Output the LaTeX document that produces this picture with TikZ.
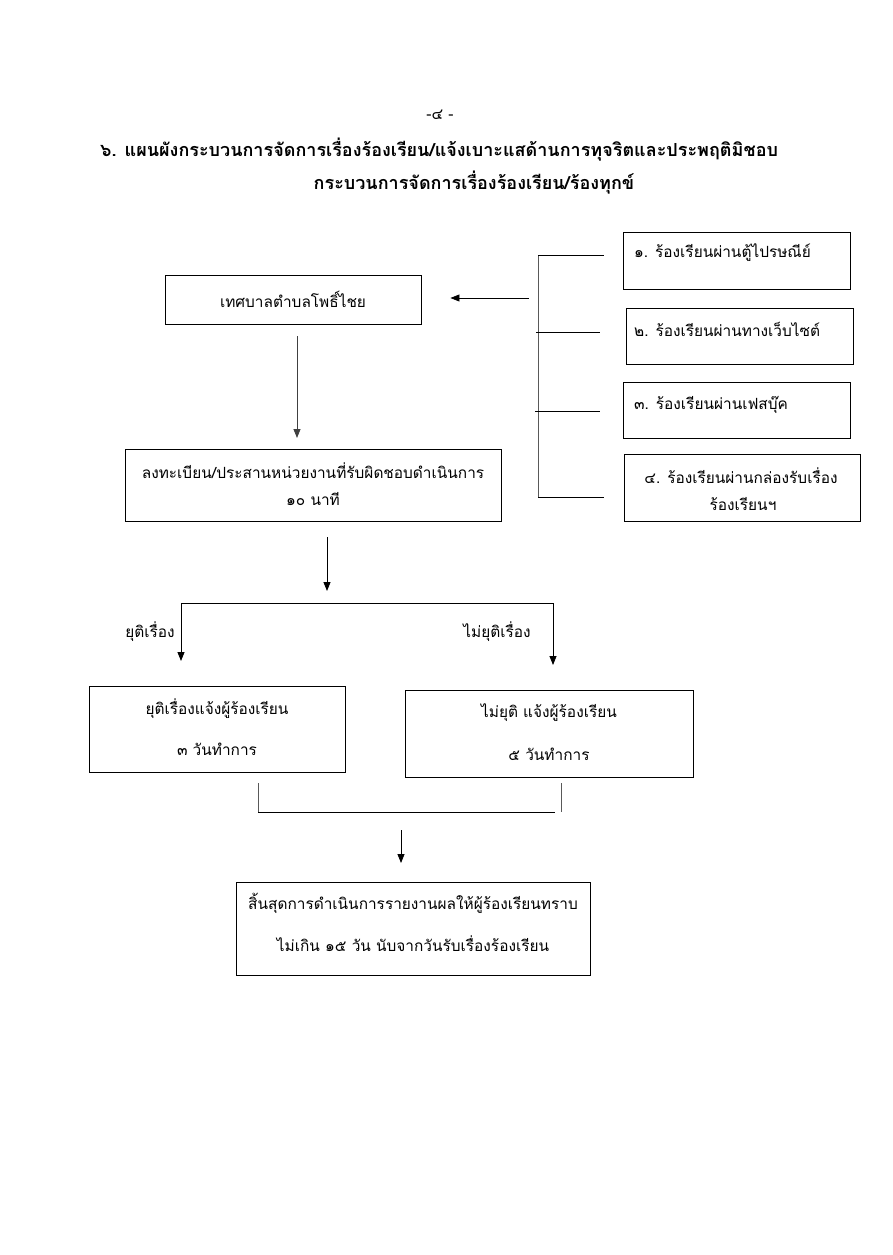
\documentclass[tikz,border=0pt]{standalone}
\usepackage{fontspec}
\setmainfont[Script=Thai]{Loma}
\usetikzlibrary{arrows.meta}
\tikzset{
  box/.style={draw, line width=0.9pt, inner sep=0pt},
  lbl/.style={inner sep=0pt, font=\fontsize{15.4}{18}\selectfont},
  ttl/.style={inner sep=0pt, font=\fontsize{18}{21}\selectfont\bfseries},
  con/.style={line width=0.8pt},
  arr/.style={con, -{Triangle[width=7pt,length=9pt]}},
}
\begin{document}
\begin{tikzpicture}[x=1pt,y=-1pt]
\useasboundingbox (0,0) rectangle (893,1255);
% header
\node[lbl] (pg) at (440,115) {-๔ -};
\node[ttl, anchor=west] (t1) at (100,150) {๖. แผนผังกระบวนการจัดการเรื่องร้องเรียน/แจ้งเบาะแสด้านการทุจริตและประพฤติมิชอบ};
\node[ttl] (t2) at (474,183) {กระบวนการจัดการเรื่องร้องเรียน/ร้องทุกข์};
% boxes
\node[box, minimum width=256, minimum height=49] (b1) at (293,299.5) {};
\node[lbl] at (b1.center) {เทศบาลตำบลโพธิ์ไชย};
\node[box, minimum width=376, minimum height=72] (b2) at (313,485) {};
\node[lbl] at (313,471) {ลงทะเบียน/ประสานหน่วยงานที่รับผิดชอบดำเนินการ};
\node[lbl] at (313,499) {๑๐ นาที};
% right boxes
\node[box, minimum width=227, minimum height=57] (r1) at (736.5,260.5) {};
\node[lbl, anchor=west] at (634,253) {๑. ร้องเรียนผ่านตู้ไปรษณีย์};
\node[box, minimum width=227, minimum height=56] (r2) at (739.5,336) {};
\node[lbl, anchor=west] at (634,329) {๒. ร้องเรียนผ่านทางเว็บไซต์};
\node[box, minimum width=227, minimum height=56] (r3) at (736.5,410) {};
\node[lbl, anchor=west] at (634,405) {๓. ร้องเรียนผ่านเฟสบุ๊ค};
\node[box, minimum width=236, minimum height=67] (r4) at (742,487.5) {};
\node[lbl] at (741,476) {๔. ร้องเรียนผ่านกล่องรับเรื่อง};
\node[lbl] at (743,504) {ร้องเรียนฯ};
% lower boxes
\node[box, minimum width=256, minimum height=86] (b3) at (217,729) {};
\node[lbl] at (217,709) {ยุติเรื่องแจ้งผู้ร้องเรียน};
\node[lbl] at (217,749) {๓ วันทำการ};
\node[box, minimum width=288, minimum height=87] (b4) at (549,733.5) {};
\node[lbl] at (549,713) {ไม่ยุติ แจ้งผู้ร้องเรียน};
\node[lbl] at (549,754) {๕ วันทำการ};
\node[box, minimum width=354, minimum height=93] (b5) at (413,928.5) {};
\node[lbl] at (413,903) {สิ้นสุดการดำเนินการรายงานผลให้ผู้ร้องเรียนทราบ};
\node[lbl] at (413,944) {ไม่เกิน ๑๕ วัน นับจากวันรับเรื่องร้องเรียน};
\node[lbl] (y1) at (150,632) {ยุติเรื่อง};
\node[lbl] (y2) at (497,632) {ไม่ยุติเรื่อง};
% bracket on right
\coordinate (k1) at (538,255); \coordinate (k1e) at (604,255);
\coordinate (k2) at (538,332); \coordinate (k2e) at (600,332);
\coordinate (k3) at (538,411); \coordinate (k3e) at (600,411);
\coordinate (k4) at (538,497); \coordinate (k4e) at (604,497);
\draw[con, gray!70!black] (k1) -- (k4);
\draw[con] (k1) -- (k1e);
\draw[con] (536,332) -- (k2e);
\draw[con] (535,411) -- (k3e);
\draw[con] (k4) -- (k4e);
\coordinate (ja) at (529,298);
\draw[arr] (ja) -- ([xshift=29]b1.east |- ja);
% down arrows
\coordinate (d1s) at (297,336); \coordinate (d1e) at (297,438);
\draw[arr, gray!50!black] (d1s) -- (d1e);
\coordinate (d2s) at (327,537); \coordinate (d2e) at (327,591);
\draw[arr] (d2s) -- (d2e);
\coordinate (sl) at (181,603); \coordinate (sr) at (553,603);
\draw[con] (sl) -- (sr);
\draw[arr] (sl) -- (181,661);
\draw[arr] (sr) -- (553,665);
% merge
\coordinate (ml) at (258,812); \coordinate (mr) at (561,812);
\draw[con, gray!70!black] (258,783) -- (ml);
\draw[con, gray!70!black] (561,783) -- (mr);
\draw[con] (ml) -- (555,812);
\coordinate (d3s) at (401,830); \coordinate (d3e) at (401,863);
\draw[arr] (d3s) -- (d3e);
\end{tikzpicture}
\end{document}
